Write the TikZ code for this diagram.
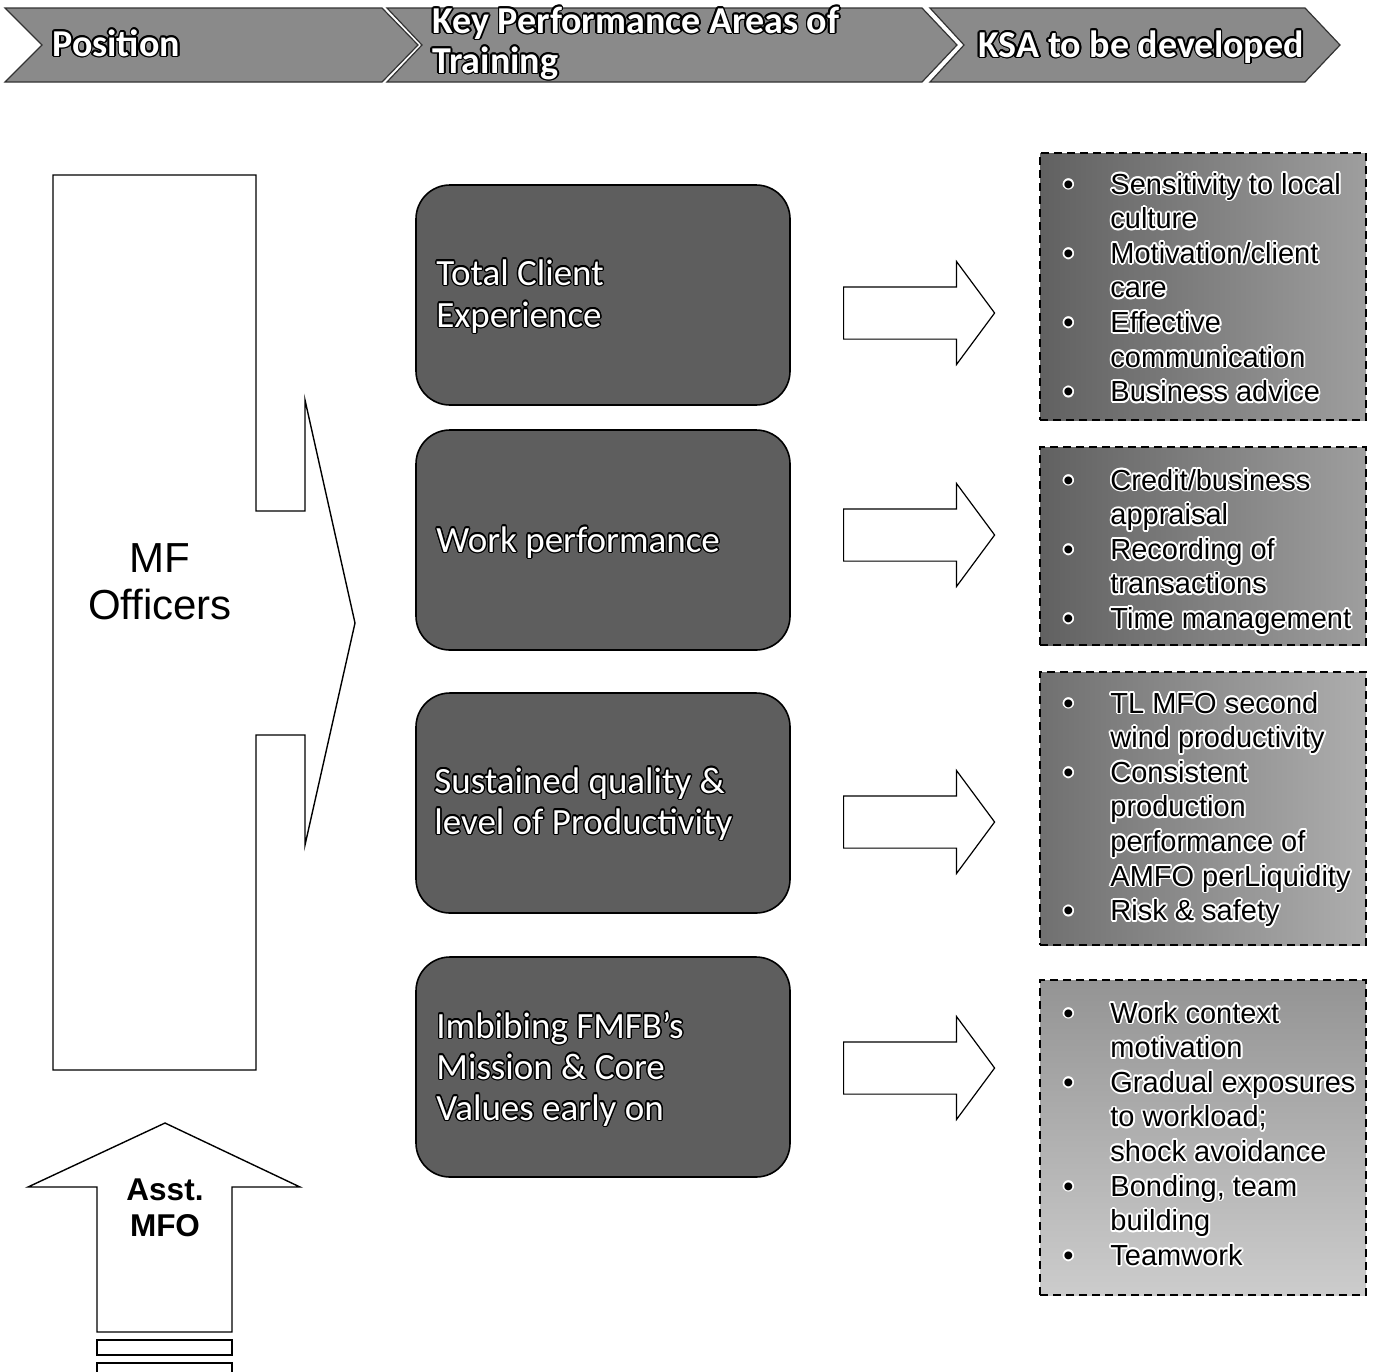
\documentclass[tikz,border=0pt]{standalone}
\usepackage{fontspec}
\setmainfont{Carlito}
\newfontfamily\arialf{Liberation Sans}
\usetikzlibrary{shapes.arrows}

\definecolor{hdrgray}{HTML}{8A8A8A}
\definecolor{kpagray}{HTML}{5E5E5E}

% text with a coloured outline: name, position, style, outline colour, outline radius, text
\newcommand\outlined[6]{%
  \foreach \ang in {0,30,...,330}{%
    \node[#3,text=#4] at ([shift={(\ang:#5)}]#2) {#6};}%
  \node[#3] (#1) at (#2) {#6};}

\begin{document}
\begin{tikzpicture}[x=0.5pt,y=-0.5pt,
  chev/.style={fill=hdrgray,draw=black!80,line width=0.6pt},
  hdrtext/.style={font=\fontsize{19}{20}\selectfont\bfseries,text=white,anchor=base west,inner sep=0},
  kpabox/.style={rectangle,rounded corners=17pt,fill=kpagray,draw=black,line width=0.8pt,
    minimum width=187pt,minimum height=110pt},
  kpatext/.style={font=\fontsize{18.5}{20}\selectfont,text=white,anchor=base west,inner sep=0},
  blockarrow/.style={single arrow,draw=black,fill=white,line width=0.6pt,anchor=tail,
    minimum height=75.5pt,inner xsep=0pt,inner ysep=12.75pt,text height=0pt,text depth=0pt,
    single arrow head extend=12.75pt,single arrow tip angle=107},
  ksabox/.style={rectangle,draw=black,line width=0.8pt,dash pattern=on 4pt off 2.5pt,
    minimum width=163pt},
  ksatext/.style={font=\arialf\fontsize{14.5}{17}\selectfont,text=black,anchor=base west,inner sep=0},
  outline/.style={draw=black,line width=0.7pt,fill=white}]
\useasboundingbox (0,0) rectangle (1374,1371);

% header chevrons
\draw[chev] (5,8) -- (382,8) -- (418,45) -- (382,82) -- (5,82) -- (42,45) -- cycle;
\draw[chev] (387,8) -- (922,8) -- (957,45) -- (922,82) -- (387,82) -- (422,45) -- cycle;
\draw[chev] (930,8) -- (1305,8) -- (1340,45) -- (1305,82) -- (930,82) -- (964,45) -- cycle;
\outlined{h1}{52,56}{hdrtext}{black}{0.9pt}{Position}
\outlined{h2a}{432,33}{hdrtext}{black}{0.9pt}{Key Performance Areas of}
\outlined{h2b}{432,73}{hdrtext}{black}{0.9pt}{Training}
\outlined{h3}{978,57}{hdrtext}{black}{0.9pt}{KSA to be developed}

% position arrow
\draw[outline] (53,175) -- (256,175) -- (256,511) -- (305,511) -- (305,400) -- (355,623)
  -- (305,845) -- (305,735) -- (256,735) -- (256,1070) -- (53,1070) -- cycle;
\node[font=\arialf\fontsize{21}{23.5}\selectfont,align=center,inner sep=0] (mfo) at (160,582) {MF\\Officers};

\draw[outline] (165,1123) -- (300,1187) -- (232,1187) -- (232,1332) -- (97,1332) -- (97,1187)
  -- (28,1187) -- cycle;
\node[font=\arialf\bfseries\fontsize{15.75}{18}\selectfont,align=center,inner sep=0] (amfo) at (165,1208) {Asst.\\MFO};
\draw[outline] (97,1340) rectangle (232,1355);
\draw[outline] (97,1363) rectangle (232,1390);

% key performance areas
\node[kpabox] (k1) at (603,295) {};
\node[kpabox] (k2) at (603,540) {};
\node[kpabox] (k3) at (603,803) {};
\node[kpabox] (k4) at (603,1067) {};
\outlined{k1a}{436,285}{kpatext}{black}{0.7pt}{Total Client}
\outlined{k1b}{436,327}{kpatext}{black}{0.7pt}{Experience}
\outlined{k2a}{436,552}{kpatext}{black}{0.7pt}{Work performance}
\outlined{k3a}{434,793}{kpatext}{black}{0.7pt}{Sustained quality \&}
\outlined{k3b}{434,834}{kpatext}{black}{0.7pt}{level of Productivity}
\outlined{k4a}{436,1038}{kpatext}{black}{0.7pt}{Imbibing FMFB's}
\outlined{k4b}{436,1079}{kpatext}{black}{0.7pt}{Mission \& Core}
\outlined{k4c}{436,1120}{kpatext}{black}{0.7pt}{Values early on}

% block arrows
\node[blockarrow] (a1) at (843,313) {};
\node[blockarrow] (a2) at (843,535) {};
\node[blockarrow] (a3) at (843,822) {};
\node[blockarrow] (a4) at (843,1068) {};

% KSA boxes
\node[ksabox,minimum height=133.5pt,left color=black!62,right color=black!38] (s1) at (1203,286.5) {};
\node[ksabox,minimum height=99pt,left color=black!62,right color=black!38] (s2) at (1203,546) {};
\node[ksabox,minimum height=136.5pt,left color=black!56,right color=black!32] (s3) at (1203,808.5) {};
\node[ksabox,minimum height=157.5pt,top color=black!42,bottom color=black!20] (s4) at (1203,1137.5) {};

\foreach \y/\txt [count=\i] in {194/{Sensitivity to local},228.6/culture,263.2/{Motivation/client},
    297.8/care,332.4/Effective,367/communication,401.6/{Business advice},
    490/{Credit/business},524.6/appraisal,559.2/{Recording of},593.8/transactions,628.4/{Time management},
    713/{TL MFO second},747.6/{wind productivity},782.2/Consistent,816.8/production,
    851.4/{performance of},886/{AMFO perLiquidity},920.6/{Risk \& safety},
    1023/{Work context},1057.6/motivation,1092.2/{Gradual exposures},1126.8/{to workload;},
    1161.4/{shock avoidance},1196/{Bonding, team},1230.6/building,1265.2/Teamwork}{
  \outlined{ksa\i}{1110,\y}{ksatext}{white}{0.9pt}{\txt}
}
\foreach \y [count=\i] in {194,263.2,332.4,401.6,490,559.2,628.4,713,782.2,920.6,1023,1092.2,1196,1265.2}{
  \outlined{b\i}{1063,\y}{ksatext}{white}{0.9pt}{\textbullet}
}
\end{tikzpicture}
\end{document}
